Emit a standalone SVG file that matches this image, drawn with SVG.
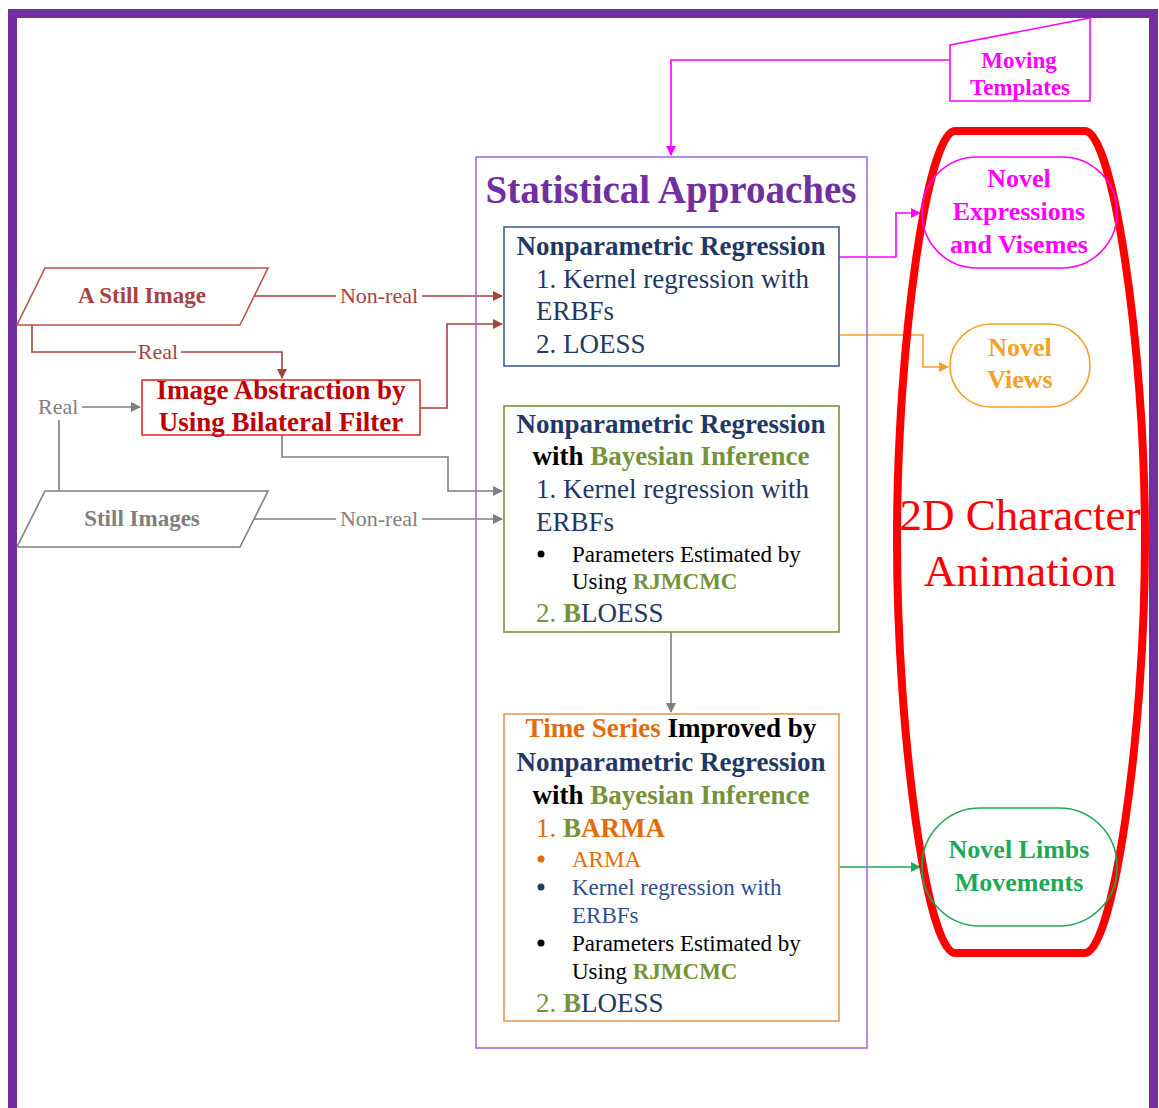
<svg xmlns="http://www.w3.org/2000/svg" width="1159" height="1108" viewBox="0 0 1159 1108">
<style>
text{font-family:"Liberation Serif","Times New Roman",serif}
.b{font-weight:bold}
.hdr{font-size:27px;font-weight:bold}
.itm{font-size:27px}
.sm{font-size:23px}
.navy{fill:#1F3864}
.grn{fill:#76923C}
.org{fill:#E36C09}
.blk{fill:#000}
.ln{fill:none;stroke-width:1.6}
</style>
<defs>
<marker id="aBr" markerWidth="10" markerHeight="10" refX="9" refY="5" orient="auto" markerUnits="userSpaceOnUse"><path d="M0,0 L10,5 L0,10 Z" fill="#A5433F"/></marker>
<marker id="aGr" markerWidth="10" markerHeight="10" refX="9" refY="5" orient="auto" markerUnits="userSpaceOnUse"><path d="M0,0 L10,5 L0,10 Z" fill="#7F7F7F"/></marker>
<marker id="aMg" markerWidth="10" markerHeight="10" refX="9" refY="5" orient="auto" markerUnits="userSpaceOnUse"><path d="M0,0 L10,5 L0,10 Z" fill="#FF00FF"/></marker>
<marker id="aOr" markerWidth="10" markerHeight="10" refX="9" refY="5" orient="auto" markerUnits="userSpaceOnUse"><path d="M0,0 L10,5 L0,10 Z" fill="#F5A023"/></marker>
<marker id="aGn" markerWidth="10" markerHeight="10" refX="9" refY="5" orient="auto" markerUnits="userSpaceOnUse"><path d="M0,0 L10,5 L0,10 Z" fill="#1FA855"/></marker>
</defs>
<rect width="1159" height="1108" fill="#fff"/>
<!-- purple frame -->
<path d="M12.5,1108 V13.5 H1153.5 V1108" fill="none" stroke="#7030A0" stroke-width="9"/>

<!-- connectors -->
<g id="connectors">
<path class="ln" d="M950,60 H671 V155" stroke="#FF00FF" marker-end="url(#aMg)"/>
<path class="ln" d="M254,296 H502" stroke="#A5433F" marker-end="url(#aBr)"/>
<path class="ln" d="M32,325 V352 H282 V378" stroke="#A5433F" marker-end="url(#aBr)"/>
<path class="ln" d="M420,408 H447 V324 H502" stroke="#A5433F" marker-end="url(#aBr)"/>
<path class="ln" d="M82,407 H140" stroke="#7F7F7F" marker-end="url(#aGr)"/>
<path class="ln" d="M59,420 V491" stroke="#7F7F7F"/>
<path class="ln" d="M282,435 V457 H448 V491 H502" stroke="#7F7F7F" marker-end="url(#aGr)"/>
<path class="ln" d="M254,519 H502" stroke="#7F7F7F" marker-end="url(#aGr)"/>
<path class="ln" d="M671,632 V712" stroke="#7F7F7F" marker-end="url(#aGr)"/>
<path class="ln" d="M839,257 H896 V213 H920" stroke="#FF00FF" marker-end="url(#aMg)"/>
<path class="ln" d="M839,335 H923 V367 H948" stroke="#F5A023" marker-end="url(#aOr)"/>
<path class="ln" d="M839,867 H920" stroke="#1FA855" marker-end="url(#aGn)"/>
<rect x="336" y="284" width="86" height="22" fill="#fff"/>
<text x="379" y="303" text-anchor="middle" font-size="22" fill="#A5433F">Non-real</text>
<rect x="136" y="340" width="45" height="22" fill="#fff"/>
<text x="158" y="359" text-anchor="middle" font-size="22" fill="#A5433F">Real</text>
<text x="38" y="414" font-size="22" fill="#7F7F7F">Real</text>
<rect x="336" y="507" width="86" height="22" fill="#fff"/>
<text x="379" y="526" text-anchor="middle" font-size="22" fill="#7F7F7F">Non-real</text>
</g>

<g id="moving-templates">
<path d="M950,45 L1090,18 V101 H950 Z" fill="#fff" stroke="#FF00FF" stroke-width="1.6"/>
<text x="1019" y="68" text-anchor="middle" font-size="23" class="b" fill="#FF00FF">Moving</text>
<text x="1020" y="95" text-anchor="middle" font-size="23" class="b" fill="#FF00FF">Templates</text>
</g>

<g id="a-still-image">
<path d="M45,268 H268 L240,325 H17 Z" fill="#fff" stroke="#C0504D" stroke-width="1.6"/>
<text x="142" y="303" text-anchor="middle" font-size="23" class="b" fill="#A5433F">A Still Image</text>
</g>

<g id="image-abstraction">
<rect x="142" y="380" width="278" height="55" fill="#fff" stroke="#E0302E" stroke-width="1.6"/>
<text x="281" y="399" text-anchor="middle" font-size="27" class="b" fill="#C00000">Image Abstraction by</text>
<text x="281" y="431" text-anchor="middle" font-size="27" class="b" fill="#C00000">Using Bilateral Filter</text>
</g>

<g id="still-images">
<path d="M45,491 H268 L240,547 H17 Z" fill="#fff" stroke="#7F7F7F" stroke-width="1.6"/>
<text x="142" y="526" text-anchor="middle" font-size="23" class="b" fill="#7F7F7F">Still Images</text>
</g>

<g id="statistical-approaches">
<rect x="476" y="157" width="391" height="891" fill="none" stroke="#A070D8" stroke-width="1.6"/>
<text x="671" y="203" text-anchor="middle" font-size="39" class="b" fill="#7030A0">Statistical Approaches</text>
</g>

<g id="nonparametric-regression">
<rect x="504" y="227" width="335" height="139" fill="#fff" stroke="#3F5F93" stroke-width="1.6"/>
<text x="671" y="255" text-anchor="middle" class="hdr navy">Nonparametric Regression</text>
<text x="536" y="288" class="itm navy">1. Kernel regression with</text>
<text x="536" y="320" class="itm navy">ERBFs</text>
<text x="536" y="353" class="itm navy">2. LOESS</text>
</g>

<g id="nonparametric-bayesian">
<rect x="504" y="406" width="335" height="226" fill="#fff" stroke="#76923C" stroke-width="1.6"/>
<text x="671" y="433" text-anchor="middle" class="hdr navy">Nonparametric Regression</text>
<text x="671" y="465" text-anchor="middle" class="hdr"><tspan class="blk">with </tspan><tspan class="grn">Bayesian Inference</tspan></text>
<text x="536" y="498" class="itm navy">1. Kernel regression with</text>
<text x="536" y="531" class="itm navy">ERBFs</text>
<circle cx="541" cy="554" r="3.5" fill="#000"/>
<text x="572" y="562" class="sm blk">Parameters Estimated by</text>
<text x="572" y="589" class="sm"><tspan class="blk">Using </tspan><tspan class="grn b">RJMCMC</tspan></text>
<text x="536" y="622" class="itm"><tspan class="grn">2. </tspan><tspan class="grn b">B</tspan><tspan class="navy">LOESS</tspan></text>
</g>

<g id="time-series">
<rect x="504" y="714" width="335" height="307" fill="#fff" stroke="#E89A50" stroke-width="1.6"/>
<text x="671" y="737" text-anchor="middle" class="hdr"><tspan class="org">Time Series </tspan><tspan class="blk">Improved by</tspan></text>
<text x="671" y="771" text-anchor="middle" class="hdr navy">Nonparametric Regression</text>
<text x="671" y="804" text-anchor="middle" class="hdr"><tspan class="blk">with </tspan><tspan class="grn">Bayesian Inference</tspan></text>
<text x="536" y="837" class="itm"><tspan class="org">1. </tspan><tspan class="grn b">B</tspan><tspan class="org b">ARMA</tspan></text>
<circle cx="541" cy="859" r="3.5" fill="#E36C09"/>
<text x="572" y="867" class="sm org">ARMA</text>
<circle cx="541" cy="887" r="3.5" fill="#1F3864"/>
<text x="572" y="895" class="sm" fill="#2F4F8F">Kernel regression with</text>
<text x="572" y="923" class="sm" fill="#2F4F8F">ERBFs</text>
<circle cx="541" cy="943" r="3.5" fill="#000"/>
<text x="572" y="951" class="sm blk">Parameters Estimated by</text>
<text x="572" y="979" class="sm"><tspan class="blk">Using </tspan><tspan class="grn b">RJMCMC</tspan></text>
<text x="536" y="1012" class="itm"><tspan class="grn">2. </tspan><tspan class="grn b">B</tspan><tspan class="navy">LOESS</tspan></text>
</g>

<g id="character-animation">
<path d="M955,131 H1085 C1112,131 1145,340 1145,540 C1145,740 1112,953 1085,953 H955 C928,953 897,740 897,540 C897,340 928,131 955,131 Z" fill="none" stroke="#FF0000" stroke-width="8"/>
<text x="1020" y="530" text-anchor="middle" font-size="45" fill="#FF0000">2D Character</text>
<text x="1020" y="586" text-anchor="middle" font-size="45" fill="#FF0000">Animation</text>
</g>

<g id="novel-expressions">
<rect x="922" y="157" width="195" height="111" rx="55" ry="55" fill="none" stroke="#FF00FF" stroke-width="1.6"/>
<text x="1019" y="187" text-anchor="middle" font-size="26" class="b" fill="#FF00FF">Novel</text>
<text x="1019" y="220" text-anchor="middle" font-size="26" class="b" fill="#FF00FF">Expressions</text>
<text x="1019" y="253" text-anchor="middle" font-size="26" class="b" fill="#FF00FF">and Visemes</text>
</g>
<g id="novel-views">
<rect x="950" y="324" width="140" height="83" rx="41" ry="41" fill="none" stroke="#F5A023" stroke-width="1.6"/>
<text x="1020" y="356" text-anchor="middle" font-size="26" class="b" fill="#F5A023">Novel</text>
<text x="1020" y="388" text-anchor="middle" font-size="26" class="b" fill="#F5A023">Views</text>
</g>
<g id="novel-limbs">
<rect x="922" y="808" width="195" height="118" rx="58" ry="58" fill="none" stroke="#1FA855" stroke-width="1.6"/>
<text x="1019" y="858" text-anchor="middle" font-size="26" class="b" fill="#1FA855">Novel Limbs</text>
<text x="1019" y="891" text-anchor="middle" font-size="26" class="b" fill="#1FA855">Movements</text>
</g>
</svg>
